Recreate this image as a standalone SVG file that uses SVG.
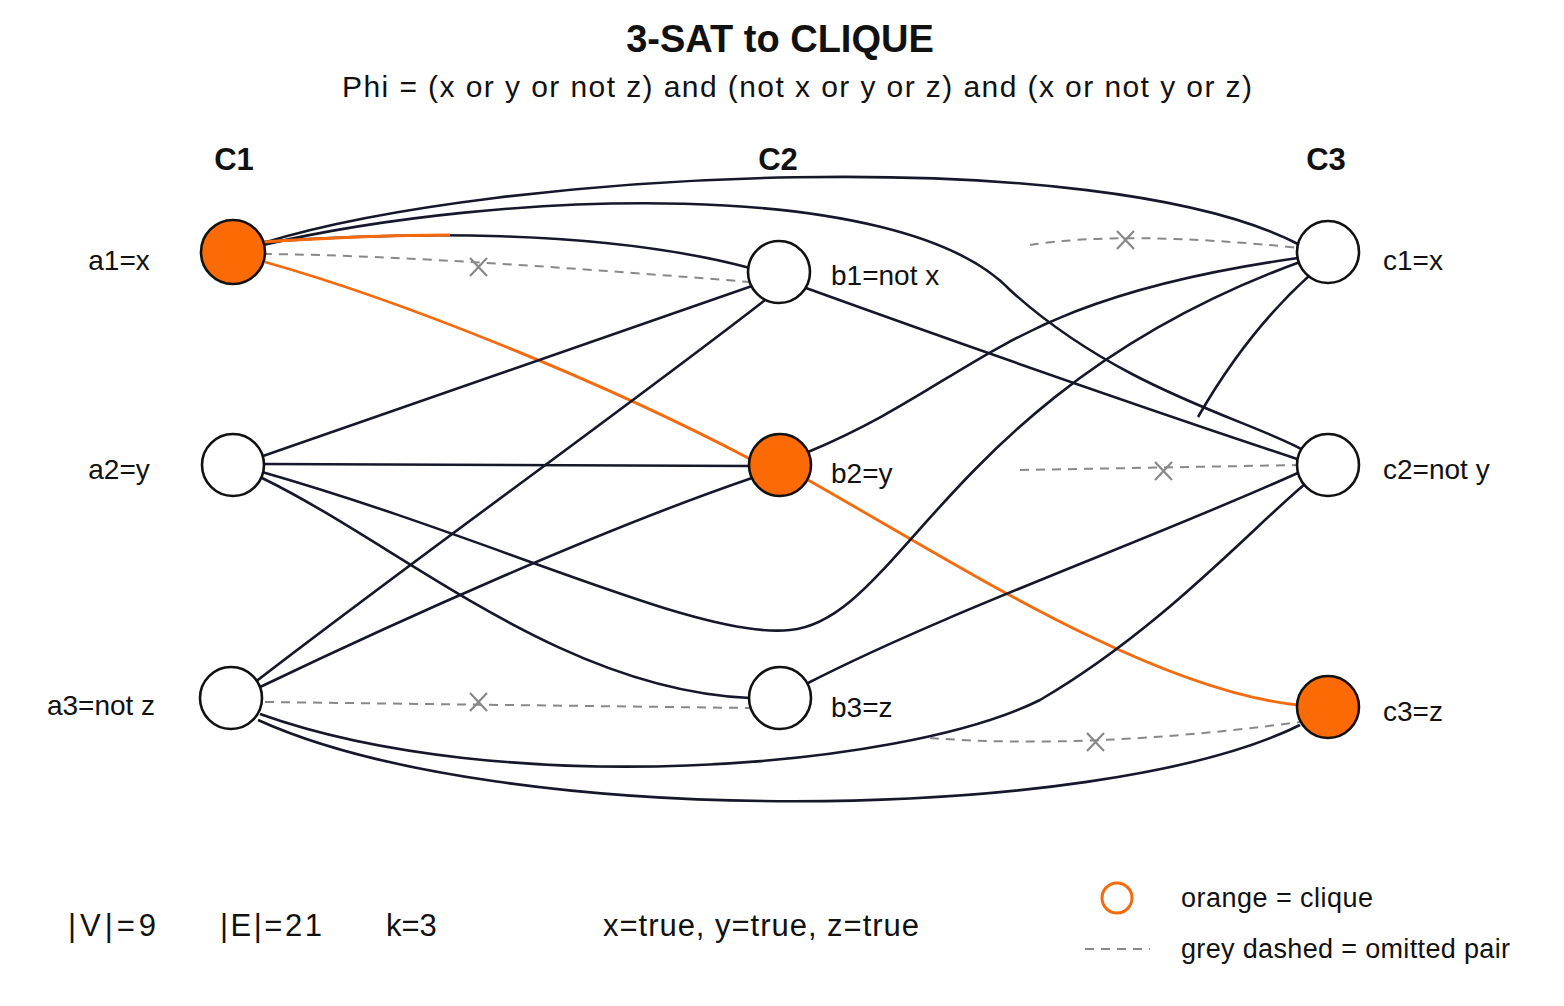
<svg xmlns="http://www.w3.org/2000/svg" width="1564" height="1006" viewBox="0 0 1564 1006">
<style>
text{font-family:"Liberation Sans",Arial,sans-serif;fill:#111}
.e{fill:none;stroke:#15172a;stroke-width:2.6}
.o{fill:none;stroke:#f46a0c;stroke-width:2.8}
.d{fill:none;stroke:#888;stroke-width:2;stroke-dasharray:9 7}
.x{stroke:#888;stroke-width:2.2}
.n{fill:#fff;stroke:#111;stroke-width:2.6}
.nc{fill:#fb6a04;stroke:#111;stroke-width:2.6}
.lbl{font-size:28px}
.hd{font-size:31px;font-weight:bold}
</style>
<rect width="1564" height="1006" fill="#fff"/>
<text x="780" y="52" text-anchor="middle" style="font-size:38px;font-weight:bold">3-SAT to CLIQUE</text>
<text x="342" y="97" textLength="910" lengthAdjust="spacing" style="font-size:30px">Phi = (x or y or not z) and (not x or y or z) and (x or not y or z)</text>
<text x="234" y="170" text-anchor="middle" class="hd">C1</text>
<text x="778" y="170" text-anchor="middle" class="hd">C2</text>
<text x="1326" y="170" text-anchor="middle" class="hd">C3</text>
<g id="connectors">
<path class="e" d="M263,243 C500,170 1100,140 1300,245"/>
<path class="e" d="M263,245 C500,190 900,175 1010,290 C1120,390 1250,420 1303,450"/>
<path class="e" d="M263,242 C400,232 600,228 750,268"/>
<path class="o" d="M263,242 C340,237 410,235 450,235"/>
<path class="o" d="M265,262 C400,300 600,380 752,460"/>
<path class="o" d="M808,480 C950,560 1150,690 1298,705"/>
<path class="e" d="M263,456 L752,286"/>
<path class="e" d="M264,464 L750,466"/>
<path class="e" d="M262,472 C500,540 700,640 790,630 C900,620 950,390 1300,262"/>
<path class="e" d="M262,478 C400,545 560,690 750,698"/>
<path class="e" d="M254,683 C400,570 650,390 765,300"/>
<path class="e" d="M258,688 C400,620 600,530 752,478"/>
<path class="e" d="M260,714 C500,800 900,770 1040,700 C1160,630 1250,530 1305,484"/>
<path class="e" d="M258,720 C500,830 1100,825 1300,725"/>
<path class="e" d="M806,288 C950,340 1150,410 1300,460"/>
<path class="e" d="M808,452 C980,380 1000,300 1298,258"/>
<path class="e" d="M806,684 C950,610 1150,540 1300,472"/>
<path class="e" d="M1310,275 C1260,320 1225,370 1198,417"/>
<path class="d" d="M263,254 C400,255 600,270 750,282"/>
<path class="d" d="M265,702 L750,708"/>
<path class="d" d="M1030,245 Q1125,230 1300,248"/>
<path class="d" d="M1020,470 L1300,465"/>
<path class="d" d="M930,738 Q1090,750 1300,722"/>
<g class="x">
<path d="M470,258 L487,276 M487,258 L470,276"/>
<path d="M470,693 L487,711 M487,693 L470,711"/>
<path d="M1117,231 L1134,249 M1134,231 L1117,249"/>
<path d="M1155,462 L1172,480 M1172,462 L1155,480"/>
<path d="M1087,733 L1104,751 M1104,733 L1087,751"/>
</g>
</g>
<g id="a1"><circle class="nc" cx="233" cy="252" r="32"/><text x="119" y="270" text-anchor="middle" class="lbl">a1=x</text></g>
<g id="a2"><circle class="n" cx="233" cy="465" r="31"/><text x="119" y="479" text-anchor="middle" class="lbl">a2=y</text></g>
<g id="a3"><circle class="n" cx="231" cy="698" r="31"/><text x="101" y="715" text-anchor="middle" class="lbl">a3=not z</text></g>
<g id="b1"><circle class="n" cx="779" cy="272" r="31"/><text x="831" y="285" class="lbl">b1=not x</text></g>
<g id="b2"><circle class="nc" cx="780" cy="465" r="31"/><text x="831" y="483" class="lbl">b2=y</text></g>
<g id="b3"><circle class="n" cx="780" cy="698" r="31"/><text x="831" y="717" class="lbl">b3=z</text></g>
<g id="c1"><circle class="n" cx="1328" cy="252" r="31"/><text x="1383" y="270" class="lbl">c1=x</text></g>
<g id="c2"><circle class="n" cx="1328" cy="465" r="31"/><text x="1383" y="479" class="lbl">c2=not y</text></g>
<g id="c3"><circle class="nc" cx="1328" cy="707" r="31"/><text x="1383" y="721" class="lbl">c3=z</text></g>
<g id="footer">
<text x="68" y="936" textLength="88" style="font-size:31px">|V|=9</text>
<text x="220" y="936" textLength="102" style="font-size:31px">|E|=21</text>
<text x="386" y="936" style="font-size:31px">k=3</text>
<text x="603" y="936" textLength="316" style="font-size:31px">x=true,  y=true,  z=true</text>
</g>
<g id="legend">
<circle cx="1117" cy="898" r="15" fill="none" stroke="#f46a0c" stroke-width="3"/>
<text x="1181" y="907" textLength="192" style="font-size:27px">orange = clique</text>
<path class="d" d="M1085,949 L1150,949"/>
<text x="1181" y="958" textLength="329" style="font-size:27px">grey dashed = omitted pair</text>
</g>
</svg>
